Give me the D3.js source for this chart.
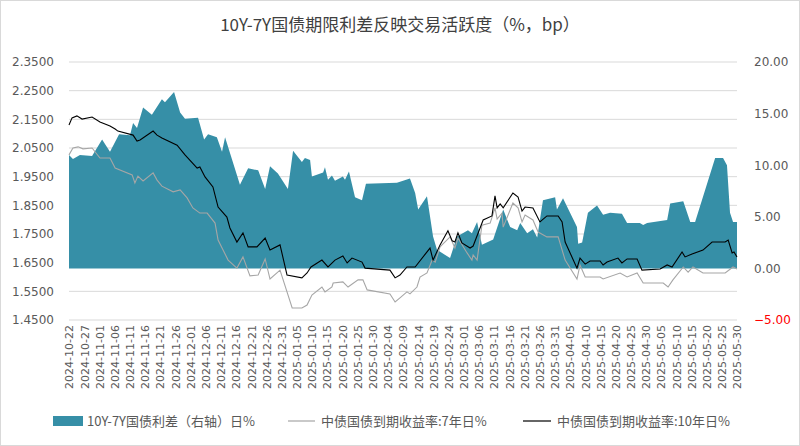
<!DOCTYPE html>
<html>
<head>
<meta charset="utf-8">
<script src="https://cdn.jsdelivr.net/npm/d3@7"></script>
<style>
  body { margin: 0; background: #fff; }
  text { font-family: "Noto Sans CJK SC", "Liberation Sans", sans-serif; }
</style>
</head>
<body>
<svg id="chart" width="800" height="446"></svg>
<script>
// days are offsets from 2024-10-22
const startDate = new Date(2024, 9, 22);

const spreadDays = [0, 1.3, 3.6, 7.6, 10.9, 13.5, 16.5, 20.1, 21.1, 22.4, 24.4, 27.3, 30.6, 31.6, 34.6, 36.6, 38.2, 42.5, 44.5, 45.8, 48.7, 50.4, 51.4, 56.3, 59, 62.3, 64.6, 66.2, 68.8, 72.1, 73.8, 76.7, 77.7, 79.4, 80, 83.7, 84.3, 85.3, 86.6, 87.6, 90.2, 90.9, 92.2, 94.2, 96.5, 97.8, 108, 112.3, 114, 115, 117.9, 119.9, 121.2, 125.5, 127.8, 131.4, 132.7, 134.4, 136, 139.7, 143, 145.3, 147.6, 148.6, 150.9, 152.8, 154.2, 156.1, 160.1, 160.7, 162.7, 167.3, 167.7, 169, 170.9, 173.9, 175.9, 178.2, 182.1, 183.8, 188, 189.1, 190.4, 197, 198, 202.3, 204.6, 206.2, 212.8, 215.4, 216.7, 217.7, 218.7, 220];
const spreadBp = [11.0, 10.6, 11.0, 10.9, 12.5, 11.3, 13.0, 12.9, 14.1, 13.6, 15.6, 14.9, 16.4, 16.1, 17.1, 15.1, 14.5, 14.6, 12.5, 13.0, 12.7, 11.3, 12.7, 8.1, 9.7, 9.5, 7.7, 9.9, 9.2, 7.7, 11.4, 10.3, 10.7, 10.5, 8.9, 9.3, 9.8, 8.6, 9.0, 8.5, 8.9, 8.6, 9.4, 6.9, 6.6, 8.2, 8.3, 8.7, 7.3, 5.7, 7.0, 3.1, 1.8, 1.0, 3.1, 3.7, 3.4, 4.5, 2.3, 2.8, 5.7, 4.0, 3.7, 4.4, 3.4, 3.8, 3.0, 6.6, 6.9, 5.7, 6.8, 4.0, 2.4, 2.5, 5.4, 6.1, 5.2, 5.4, 5.3, 4.4, 4.4, 4.2, 4.4, 4.7, 6.3, 6.5, 4.5, 4.5, 10.7, 10.7, 10.0, 5.4, 4.5, 4.5];

const y7Days = [0, 1.3, 3, 4.6, 7.6, 10.2, 13.5, 15.2, 20.8, 21.7, 22.7, 24.4, 27.7, 29, 30.6, 34.3, 36.6, 38.9, 40.8, 43.1, 45.5, 48.1, 49.1, 52.4, 55.3, 57.3, 59.6, 62.3, 64.6, 66.2, 69.5, 73.5, 76.7, 78.4, 80, 83.3, 84.3, 86.6, 87, 90.2, 91.9, 95.2, 96.8, 98.2, 105.7, 107.4, 109, 111.3, 112.3, 114.6, 115.6, 117.9, 119.6, 120.6, 122.2, 125.5, 127.1, 128.1, 131.1, 132.7, 133.1, 134.4, 136, 138.7, 140.3, 141, 142.6, 143, 146.2, 147.9, 149.2, 150.2, 152.8, 154.5, 157.4, 161.1, 163.4, 167.3, 168.3, 170, 174.9, 175.9, 181.5, 183.8, 187.1, 189.1, 195.7, 197.3, 198.9, 202.3, 203.9, 205.5, 208.8, 212.1, 216.1, 218.7, 220];
const y7Yield = [2.026, 2.050, 2.054, 2.047, 2.050, 2.015, 2.015, 1.980, 1.956, 1.928, 1.952, 1.935, 1.963, 1.938, 1.917, 1.897, 1.904, 1.876, 1.841, 1.823, 1.823, 1.788, 1.729, 1.659, 1.631, 1.670, 1.604, 1.607, 1.663, 1.593, 1.624, 1.492, 1.492, 1.502, 1.537, 1.565, 1.548, 1.565, 1.579, 1.583, 1.565, 1.590, 1.590, 1.555, 1.541, 1.513, 1.527, 1.548, 1.541, 1.565, 1.600, 1.614, 1.659, 1.652, 1.705, 1.740, 1.701, 1.736, 1.684, 1.659, 1.677, 1.659, 1.781, 1.788, 1.841, 1.802, 1.823, 1.774, 1.858, 1.841, 1.792, 1.816, 1.799, 1.757, 1.740, 1.740, 1.659, 1.593, 1.642, 1.600, 1.600, 1.593, 1.614, 1.600, 1.614, 1.579, 1.579, 1.565, 1.590, 1.635, 1.617, 1.635, 1.614, 1.614, 1.614, 1.635, 1.628];

const y10Days = [0, 1, 2.6, 4.3, 7.6, 10.2, 13.5, 15.2, 16.1, 21.1, 22.4, 23.4, 27.7, 29, 30.6, 35.6, 38.2, 42.2, 43.1, 44.8, 47.4, 49.1, 52, 53, 55.3, 57.3, 59, 61.9, 64.6, 66.2, 69.5, 71.8, 76.7, 78.4, 79.7, 83.3, 85.3, 87.6, 90.2, 91.6, 93.2, 96.5, 97.5, 105.7, 107.4, 109, 111.3, 114, 118.9, 119.9, 122.2, 124.8, 126.2, 127.1, 128.1, 129.4, 132.1, 133.1, 136.4, 139.3, 140.3, 141, 142, 143, 146.2, 147.9, 149.2, 150.2, 152.8, 155.1, 157.4, 161.1, 162.4, 163.4, 167.3, 168.3, 170, 171.6, 174.9, 175.9, 177.2, 180.8, 182.1, 183.8, 187.1, 188.7, 194.7, 197, 198.6, 201.9, 202.9, 205.2, 208.8, 211.8, 216.1, 217.1, 218.4, 219, 220];
const y10Yield = [2.130, 2.155, 2.162, 2.151, 2.158, 2.141, 2.127, 2.116, 2.109, 2.095, 2.074, 2.078, 2.109, 2.095, 2.085, 2.060, 2.026, 1.980, 1.984, 1.949, 1.914, 1.844, 1.809, 1.771, 1.722, 1.754, 1.705, 1.705, 1.736, 1.694, 1.712, 1.607, 1.597, 1.614, 1.635, 1.659, 1.635, 1.659, 1.673, 1.649, 1.666, 1.652, 1.631, 1.624, 1.597, 1.607, 1.635, 1.635, 1.701, 1.659, 1.712, 1.761, 1.726, 1.722, 1.754, 1.719, 1.701, 1.708, 1.799, 1.813, 1.883, 1.841, 1.855, 1.841, 1.893, 1.879, 1.830, 1.844, 1.841, 1.792, 1.813, 1.813, 1.792, 1.722, 1.631, 1.666, 1.645, 1.656, 1.656, 1.642, 1.652, 1.666, 1.649, 1.663, 1.663, 1.624, 1.628, 1.642, 1.635, 1.687, 1.670, 1.680, 1.694, 1.722, 1.722, 1.729, 1.684, 1.687, 1.670];

const leftTicks = [2.35, 2.25, 2.15, 2.05, 1.95, 1.85, 1.75, 1.65, 1.55, 1.45];
const rightTicks = [20, 15, 10, 5, 0, -5];
const legendLabels = ['10Y-7Y国债利差（右轴）日%', '中债国债到期收益率:7年日%', '中债国债到期收益率:10年日%'];
const title = '10Y-7Y国债期限利差反映交易活跃度（%，bp）';

const svg = d3.select('#chart');
const margin = { top: 62, right: 63, bottom: 126, left: 69 };
const W = 800, H = 446;

const toDate = d => new Date(startDate.getTime() + d * 864e5);
const x = d3.scaleTime()
  .domain([startDate, toDate(220)])
  .range([margin.left, W - margin.right]);
const yL = d3.scaleLinear().domain([1.45, 2.35]).range([H - margin.bottom, margin.top]);
const yR = d3.scaleLinear().domain([-5, 20]).range([H - margin.bottom, margin.top]);

svg.append('rect').attr('x', 0.5).attr('y', 0.5).attr('width', W - 1).attr('height', H - 1)
  .attr('fill', '#fff').attr('stroke', '#d9d9d9');

svg.append('text').attr('x', W / 2).attr('y', 31).attr('text-anchor', 'middle')
  .attr('font-size', 17).attr('fill', '#404040').text(title);

// gridlines
svg.append('g').selectAll('line').data(leftTicks).enter().append('line')
  .attr('x1', margin.left).attr('x2', W - margin.right)
  .attr('y1', d => yL(d)).attr('y2', d => yL(d))
  .attr('stroke', '#d9d9d9').attr('stroke-width', 1);

// area
const spread = spreadDays.map((d, i) => ({ t: toDate(d), v: spreadBp[i] }));
svg.append('path').datum(spread)
  .attr('fill', '#368fa7')
  .attr('d', d3.area().x(d => x(d.t)).y0(yR(0)).y1(d => yR(d.v)));

const line = d3.line().x(d => x(d.t)).y(d => yL(d.v));
svg.append('path').datum(y7Days.map((d, i) => ({ t: toDate(d), v: y7Yield[i] })))
  .attr('fill', 'none').attr('stroke', '#a6a6a6').attr('stroke-width', 1.1).attr('d', line);
svg.append('path').datum(y10Days.map((d, i) => ({ t: toDate(d), v: y10Yield[i] })))
  .attr('fill', 'none').attr('stroke', '#000').attr('stroke-width', 1.1).attr('d', line);

// axes
const la = svg.append('g').attr('transform', `translate(${margin.left - 12},0)`)
  .call(d3.axisLeft(yL).tickValues(leftTicks).tickFormat(d3.format('.4f')).tickSize(0));
la.select('.domain').remove();
la.selectAll('text').attr('font-size', 13).attr('fill', '#595959')
  .style('font-family', '"DejaVu Sans", sans-serif').attr('font-size', 12);

const ra = svg.append('g').attr('transform', `translate(${W - margin.right + 14},0)`)
  .call(d3.axisRight(yR).tickValues(rightTicks).tickFormat(d3.format('.2f')).tickSize(0));
ra.select('.domain').remove();
ra.selectAll('text').attr('font-size', 12).style('font-family', '"DejaVu Sans", sans-serif')
  .attr('fill', d => d < 0 ? '#ff0000' : '#595959');

const xTicks = d3.range(0, 221, 5).map(toDate);
const xa = svg.append('g').attr('transform', `translate(0,${H - margin.bottom})`)
  .call(d3.axisBottom(x).tickValues(xTicks).tickFormat(d3.timeFormat('%Y-%m-%d')).tickSize(0));
xa.select('.domain').remove();
xa.selectAll('text').attr('font-size', 11).attr('fill', '#595959')
  .style('font-family', '"DejaVu Sans", sans-serif')
  .attr('text-anchor', 'end').attr('transform', 'rotate(-90)')
  .attr('x', -5).attr('y', 0).attr('dy', '0.35em');

// legend
const lg = svg.append('g').attr('font-size', 13).attr('fill', '#595959');
lg.append('rect').attr('x', 53).attr('y', 416).attr('width', 30).attr('height', 10).attr('fill', '#368fa7');
lg.append('text').attr('x', 87).attr('y', 426).text(legendLabels[0]);
lg.append('line').attr('x1', 288).attr('x2', 315).attr('y1', 421).attr('y2', 421).attr('stroke', '#a6a6a6').attr('stroke-width', 1.2);
lg.append('text').attr('x', 321).attr('y', 426).text(legendLabels[1]);
lg.append('line').attr('x1', 523).attr('x2', 551).attr('y1', 421).attr('y2', 421).attr('stroke', '#000').attr('stroke-width', 1.2);
lg.append('text').attr('x', 557).attr('y', 426).text(legendLabels[2]);
</script>
</body>
</html>
